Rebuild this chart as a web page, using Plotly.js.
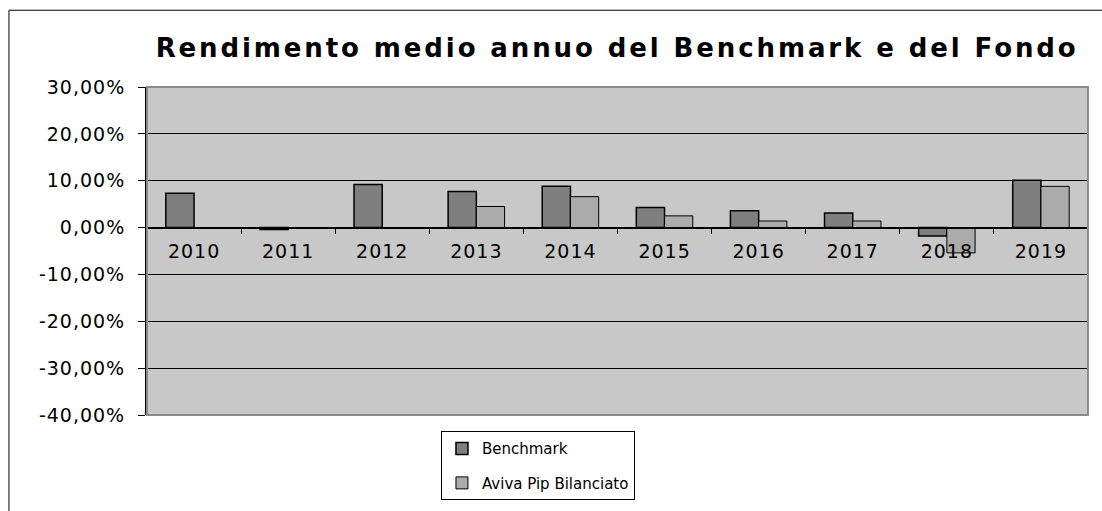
<!DOCTYPE html>
<html>
<head>
<meta charset="utf-8">
<script src="https://cdn.plot.ly/plotly-3.0.1.min.js"></script>
<style>
html,body{margin:0;padding:0;background:#fff;}
#chart{width:1102px;height:511px;}
#chart .gtitle{letter-spacing:2.9px;}
#chart .xtick text, #chart .ytick text{letter-spacing:1px;}
</style>
</head>
<body>
<div id="chart"></div>
<script>
var years = ["2010","2011","2012","2013","2014","2015","2016","2017","2018","2019"];
var benchmark = [0.073, -0.004, 0.092, 0.077, 0.088, 0.043, 0.036, 0.031, -0.018, 0.101];
var fondo = [null, null, null, 0.045, 0.066, 0.025, 0.014, 0.014, -0.054, 0.088];
var yTickVals = [-0.4, -0.3, -0.2, -0.1, 0, 0.1, 0.2, 0.3];
var yTickText = ["-40,00%", "-30,00%", "-20,00%", "-10,00%", "0,00%", "10,00%", "20,00%", "30,00%"];
var seriesNames = ["Benchmark", "Aviva Pip Bilanciato"];

var yMin = -0.4, yMax = 0.3;

var traces = [
  {type: "bar", name: seriesNames[0], x: years, y: benchmark, legendgroup: "a",
   marker: {color: "#7f7f7f", line: {color: "#000", width: 1.5}}, hoverinfo: "x+y"},
  {type: "bar", name: seriesNames[1], x: years, y: fondo, legendgroup: "b",
   marker: {color: "#ababab", line: {color: "#000", width: 1}}, hoverinfo: "x+y"}
];

var layout = {
  width: 1102, height: 511,
  margin: {l: 147, r: 14, t: 87, b: 95},
  paper_bgcolor: "#fff",
  plot_bgcolor: "#c8c8c8",
  barmode: "group",
  bargap: 0.4,
  bargroupgap: 0,
  font: {family: "DejaVu Sans, Verdana, sans-serif", color: "#000"},
  title: {
    text: "Rendimento medio annuo del Benchmark e del Fondo",
    font: {family: "DejaVu Sans, Verdana, sans-serif", size: 26, color: "#000", weight: "bold"},
    x: 0.56, xanchor: "center", xref: "container",
    y: 0.906, yanchor: "middle", yref: "container"
  },
  xaxis: {
    type: "category",
    anchor: "free",
    position: (0 - yMin) / (yMax - yMin),
    showline: true, linecolor: "#000", linewidth: 1,
    ticks: "outside", tickson: "boundaries", ticklen: 5, tickcolor: "#000", tickwidth: 1,
    ticklabelstandoff: 7,
    tickfont: {size: 19, color: "#000"},
    showgrid: false,
    fixedrange: true
  },
  yaxis: {
    range: [yMin, yMax],
    tickvals: yTickVals, ticktext: yTickText,
    tickfont: {size: 19, color: "#000"},
    ticks: "outside", ticklen: 7, tickcolor: "#000", tickwidth: 1,
    ticklabelstandoff: 9,
    showline: true, linecolor: "#000", linewidth: 2,
    showgrid: true, gridcolor: "#000", gridwidth: 1,
    zeroline: true, zerolinecolor: "#000", zerolinewidth: 1,
    fixedrange: true
  },
  legend: {
    x: 0.3124, y: -0.046, xanchor: "left", yanchor: "top",
    orientation: "v",
    traceorder: "grouped", tracegroupgap: 12,
    bgcolor: "#fff", bordercolor: "#000", borderwidth: 1,
    font: {size: 15, color: "#000"},
    itemwidth: 30
  },
  showlegend: true,
  shapes: [
    {type: "rect", xref: "paper", yref: "paper", x0: 0, x1: 1, y0: 0, y1: 1,
     line: {color: "#8a8a8a", width: 2}, layer: "above"},
    {type: "line", xref: "paper", yref: "paper", x0: -0.1467, x1: 1.2, y0: 1.234, y1: 1.234,
     line: {color: "#000", width: 1}},
    {type: "line", xref: "paper", yref: "paper", x0: -0.1467, x1: -0.1467, y0: 1.234, y1: -0.4,
     line: {color: "#000", width: 1}}
  ]
};

Plotly.newPlot("chart", traces, layout, {displayModeBar: false, staticPlot: true});
</script>
</body>
</html>
